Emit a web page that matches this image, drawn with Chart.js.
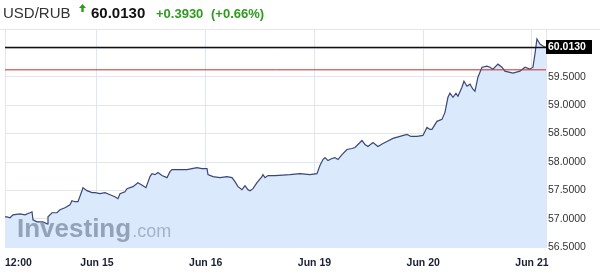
<!DOCTYPE html>
<html>
<head>
<meta charset="utf-8">
<script src="https://cdn.jsdelivr.net/npm/chart.js@4.4.1/dist/chart.umd.min.js"></script>
<style>
  body { margin: 0; background: #fff; font-family: Arial, "Liberation Sans", sans-serif; }
  #wrap { position: relative; width: 600px; height: 277px; overflow: hidden; }
  #myChart { position: absolute; left: 0; top: 0; }
  .hd { position: absolute; white-space: nowrap; }
  #sym { left: 3px; top: 5px; font-size: 15px; line-height: 15px; color: #333; }
  #arrow { left: 79px; top: 4px; }
  #last { left: 91px; top: 5px; font-size: 15px; line-height: 15px; font-weight: bold; color: #111; }
  #chg { left: 156px; top: 7px; font-size: 13px; line-height: 13px; font-weight: bold; color: #2e9a1e; }
  #pct { left: 211px; top: 7px; font-size: 13px; line-height: 13px; font-weight: bold; color: #2e9a1e; }
  #sep { position: absolute; left: 0; top: 29px; width: 600px; height: 1px; background: #e8e8ec; }
</style>
</head>
<body>
<div id="wrap">
  <canvas id="myChart" width="600" height="277"></canvas>
  <div id="sep"></div>
  <span class="hd" id="sym">USD/RUB</span>
  <svg class="hd" id="arrow" width="7" height="8" viewBox="0 0 7 8"><path d="M3.5 0 L7 4 L4.7 4 L4.7 8 L2.3 8 L2.3 4 L0 4 Z" fill="#2e9a1e"/></svg>
  <span class="hd" id="last">60.0130</span>
  <span class="hd" id="chg">+0.3930</span>
  <span class="hd" id="pct">(+0.66%)</span>
</div>
<script>
// data: hours from Jun 15 00:00 (weekend skipped), USD/RUB rate
const hours = [-20.30, -19.86, -19.20, -18.54, -16.99, -15.89, -14.79, -14.34, -14.12, -13.24,
  -11.92, -11.03, -10.81, -9.93, -8.83, -8.17, -7.06, -5.96, -5.52, -4.86,
  -4.19, -3.31, -3.09, -2.21, -1.10, -0.44, 0.66, 1.77, 2.87, 3.97,
  4.63, 5.08, 6.18, 6.62, 7.94, 9.05, 10.15, 10.81, 11.70, 12.14,
  12.80, 13.46, 14.34, 15.45, 16.11, 16.55, 17.88, 19.86, 20.97, 22.07,
  23.17, 24.28, 24.50, 25.60, 27.14, 28.69, 29.79, 30.46, 31.12, 32.00,
  32.66, 33.32, 33.77, 34.43, 35.31, 36.41, 36.63, 37.08, 37.74, 39.28,
  42.59, 44.80, 47.01, 48.55, 49.21, 49.88, 50.32, 50.98, 51.86, 52.52,
  53.19, 54.07, 55.17, 56.28, 56.94, 58.04, 58.48, 59.14, 59.81, 60.91,
  62.01, 63.12, 64.00, 65.32, 66.87, 68.41, 69.30, 70.62, 71.94, 72.83,
  73.49, 73.93, 75.03, 76.14, 76.80, 77.46, 77.90, 78.57, 79.23, 79.67,
  80.55, 80.99, 81.66, 82.32, 82.98, 83.42, 84.08, 84.97, 86.07, 86.73,
  87.39, 88.50, 89.38, 90.04, 91.81, 93.35, 94.46, 95.56, 96.22, 96.66,
  97.10, 97.77, 98.43, 99.09];
const rates = [57.038, 57.038, 57.021, 57.073, 57.091, 57.073, 57.109, 57.126, 56.985, 56.950,
  56.950, 56.915, 57.038, 57.109, 57.109, 57.162, 57.197, 57.250, 57.321, 57.303,
  57.303, 57.497, 57.550, 57.497, 57.462, 57.462, 57.444, 57.462, 57.426, 57.391,
  57.356, 57.444, 57.479, 57.532, 57.568, 57.638, 57.585, 57.550, 57.744, 57.797,
  57.779, 57.815, 57.762, 57.726, 57.832, 57.868, 57.868, 57.868, 57.885, 57.903,
  57.885, 57.885, 57.779, 57.744, 57.726, 57.744, 57.726, 57.656, 57.568, 57.515,
  57.585, 57.515, 57.497, 57.532, 57.638, 57.744, 57.779, 57.726, 57.762, 57.762,
  57.779, 57.797, 57.779, 57.797, 57.938, 58.044, 58.079, 58.026, 58.062, 58.079,
  58.044, 58.132, 58.220, 58.238, 58.256, 58.344, 58.379, 58.309, 58.273, 58.344,
  58.273, 58.326, 58.362, 58.415, 58.450, 58.485, 58.450, 58.450, 58.468, 58.609,
  58.573, 58.573, 58.715, 58.750, 58.873, 59.138, 59.209, 59.138, 59.209, 59.156,
  59.315, 59.420, 59.332, 59.368, 59.279, 59.244, 59.491, 59.667, 59.685, 59.667,
  59.632, 59.720, 59.667, 59.597, 59.562, 59.597, 59.667, 59.632, 59.667, 59.897,
  60.162, 60.073, 60.038, 60.013];

const lastRate = 60.013;
const prevClose = 59.62;

// x ticks (hours) and their labels
const xMin = -20.3;
const xMax = 99.1;
const xTickPos = [xMin, 0, 24, 48, 72, 96, xMax];
const xTickLabels = ['12:00', 'Jun 15', 'Jun 16', 'Jun 19', 'Jun 20', 'Jun 21', ''];
const yTicks = [56.5, 57.0, 57.5, 58.0, 58.5, 59.0, 59.5, 60.0];

const pricePoints = hours.map((h, i) => ({ x: h, y: rates[i] }));

// watermark behind the price line, plus the last price box on the right
const decor = {
    id: 'decor',
    beforeDatasetDraw(chart, args) {
        if (args.index !== 2) return;
        const ctx = chart.ctx;
        ctx.save();
        ctx.fillStyle = 'rgba(100,115,138,0.6)';
        ctx.textBaseline = 'alphabetic';
        ctx.font = 'bold 26px Arial, "Liberation Sans"';
        ctx.fillText('Investing', 17, 237);
        const w = ctx.measureText('Investing').width;
        ctx.fillStyle = 'rgba(110,125,150,0.5)';
        ctx.font = '18px Arial, "Liberation Sans"';
        ctx.fillText('.com', 17 + w + 1, 237);
        ctx.restore();
    },
    afterDraw(chart) {
        const ctx = chart.ctx;
        const y = chart.scales.y.getPixelForValue(lastRate);
        const x = chart.chartArea.right;
        ctx.save();
        ctx.fillStyle = '#000';
        ctx.fillRect(x, Math.round(y) - 7, 46, 14);
        ctx.fillStyle = '#fff';
        ctx.font = 'bold 10.5px Arial, "Liberation Sans"';
        ctx.textBaseline = 'middle';
        ctx.fillText(lastRate.toFixed(4), x + 2, Math.round(y) + 0.5);
        ctx.restore();
    }
};

const data = {
    datasets: [
        {
            label: 'last',
            data: [{ x: xMin, y: lastRate }, { x: xMax, y: lastRate }],
            borderColor: '#111',
            borderWidth: 1.5,
            pointRadius: 0,
            fill: false,
            order: 0
        },
        {
            label: 'prev close',
            data: [{ x: xMin, y: prevClose }, { x: xMax, y: prevClose }],
            borderColor: '#c0302f',
            borderWidth: 1,
            pointRadius: 0,
            fill: false,
            order: 1
        },
        {
            label: 'USD/RUB',
            data: pricePoints,
            borderColor: '#3b4779',
            backgroundColor: '#dae9fb',
            borderWidth: 1.2,
            pointRadius: 0,
            tension: 0,
            fill: 'start',
            order: 2
        }
    ]
};

const config = {
    type: 'line',
    data,
    options: {
        responsive: false,
        animation: false,
        events: [],
        layout: { padding: { top: 30, left: 5, right: 0, bottom: 0 } },
        plugins: { legend: { display: false }, tooltip: { enabled: false } },
        scales: {
            x: {
                type: 'linear',
                min: xMin,
                max: xMax,
                afterBuildTicks: axis => { axis.ticks = xTickPos.map(v => ({ value: v })); },
                afterFit: axis => {
                    axis.height = 29;
                    axis.paddingLeft = 0;
                    axis.paddingRight = 0;
                },
                grid: { color: '#e1e5ed', drawTicks: false },
                border: { display: false },
                ticks: {
                    autoSkip: false,
                    maxRotation: 0,
                    align: 'inner',
                    padding: 9,
                    color: '#1a1f33',
                    font: { family: 'Arial, "Liberation Sans"', size: 10.5, weight: 'bold' },
                    callback: (v, i) => xTickLabels[i]
                }
            },
            y: {
                position: 'right',
                min: 56.49,
                max: 60.32,
                afterBuildTicks: axis => { axis.ticks = yTicks.map(v => ({ value: v })); },
                afterFit: axis => { axis.width = 54; },
                grid: { color: '#e1e5ed', drawTicks: false },
                border: { display: false },
                ticks: {
                    padding: 2,
                    color: '#333',
                    font: { family: 'Arial, "Liberation Sans"', size: 10.5 },
                    callback: v => v.toFixed(4)
                }
            }
        }
    },
    plugins: [decor]
};

const myChart = new Chart(document.getElementById('myChart'), config);
</script>
</body>
</html>
